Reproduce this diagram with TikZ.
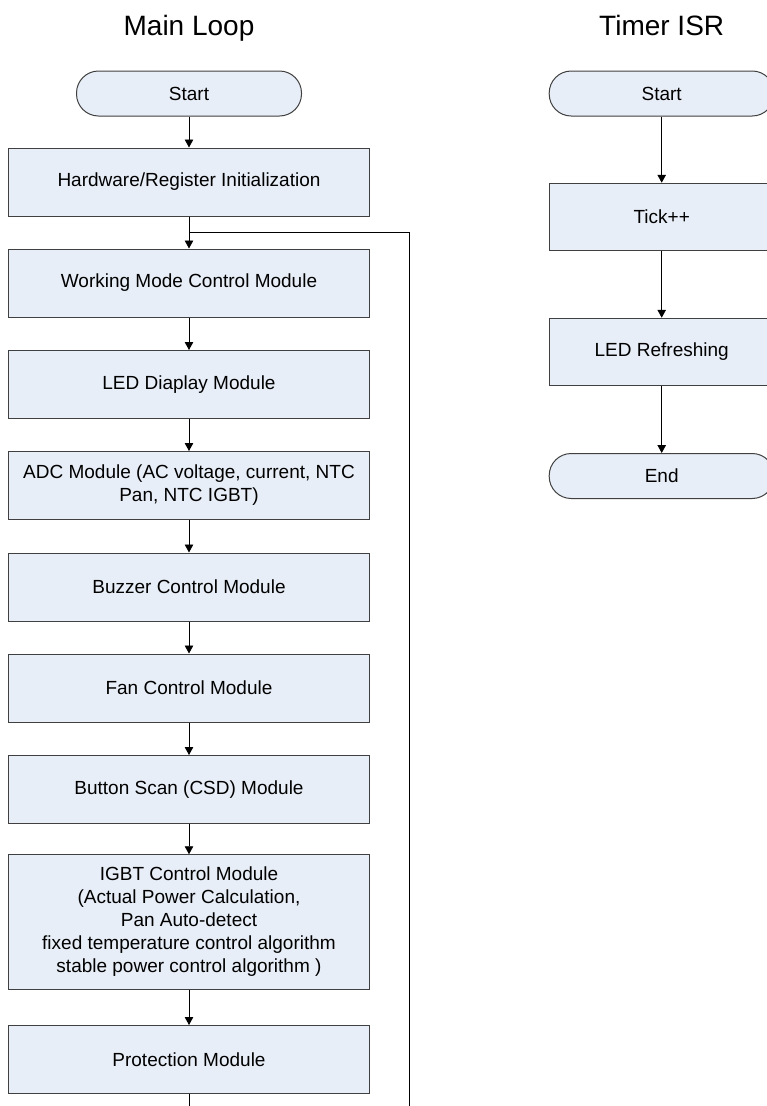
\documentclass[tikz,border=0pt]{standalone}
\usepackage{fontspec}
\setmainfont{Liberation Sans}
\usetikzlibrary{arrows.meta}
\definecolor{boxfill}{HTML}{E8EEF7}

\begin{document}
\begin{tikzpicture}[x=1pt, y=-1pt,
        box/.style={draw=black!75, fill=boxfill, line width=1pt, inner sep=0pt, align=center, minimum width=361pt, minimum height=68pt, font=\fontsize{19}{23}\selectfont},
        sbox/.style={box, minimum width=225pt, minimum height=67.5pt},
        term/.style={box, rounded corners=22pt, minimum width=225pt, minimum height=45pt},
        title/.style={anchor=base, font=\fontsize{28}{32}\selectfont},
        flow/.style={line width=0.9pt, -{Triangle[length=8pt, width=8.5pt]}}]
        \clip (0,0) rectangle (767,1106);
        \node[title] (mtitle) at (189,35) {Main Loop};
        \node[term] (mstart) at (189,93.5) {Start};
        \node[box] (hw) at (189,182) {Hardware/Register Initialization};
        \node[box] (wm) at (189,283) {Working Mode Control Module};
        \node[box] (led) at (189,384.5) {LED Diaplay Module};
        \node[box] (adc) at (189,485.5) {ADC Module (AC voltage, current, NTC\\Pan, NTC IGBT)};
        \node[box] (buzz) at (189,587) {Buzzer Control Module};
        \node[box] (fan) at (189,688) {Fan Control Module};
        \node[box] (btn) at (189,789.5) {Button Scan (CSD) Module};
        \node[box, minimum height=134.5pt] (igbt) at (189,922) {IGBT Control Module\\(Actual Power Calculation,\\Pan Auto-detect\\fixed temperature control algorithm\\stable power control algorithm )};
        \node[box] (prot) at (189,1059.5) {Protection Module};
        \draw[flow] (mstart) -- (hw);
        \draw[flow] (hw) -- (wm);
        \draw[flow] (wm) -- (led);
        \draw[flow] (led) -- (adc);
        \draw[flow] (adc) -- (buzz);
        \draw[flow] (buzz) -- (fan);
        \draw[flow] (fan) -- (btn);
        \draw[flow] (btn) -- (igbt);
        \draw[flow] (igbt) -- (prot);
        \coordinate (back) at (409,1130);
        \coordinate (merge) at (189,232);
        \draw[line width=0.9pt] (prot.south) |- (back) |- (merge);
        \node[title] (ttitle) at (661.7,35) {Timer ISR};
        \node[term] (tstart) at (661.7,93.5) {Start};
        \node[sbox] (tick) at (661.7,217) {Tick++};
        \node[sbox] (ledr) at (661.7,352) {LED Refreshing};
        \node[term] (tend) at (661.7,476) {End};
        \draw[flow] (tstart) -- (tick);
        \draw[flow] (tick) -- (ledr);
        \draw[flow] (ledr) -- (tend);
    \end{tikzpicture}
\end{document}
